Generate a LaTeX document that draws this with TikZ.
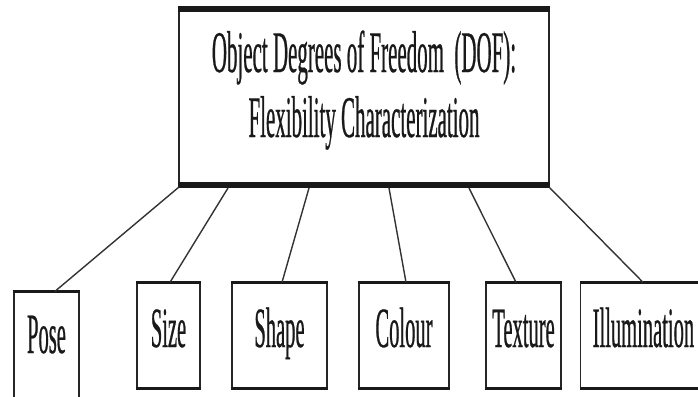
\documentclass[tikz,border=0pt]{standalone}
\usepackage{fontspec}
\newfontfamily\condserif[FakeStretch=0.36,FakeBold=0.4]{Liberation Serif}
\newfontfamily\condserifB[FakeStretch=0.355,FakeBold=0.4]{Liberation Serif}
\usetikzlibrary{calc}
\begin{document}
\begin{tikzpicture}[x=1pt,y=-1pt,
  boxframe/.style={draw=black!85, line width=1.4pt, inner sep=0pt, rectangle},
  thickedge/.style={draw=black!90, line width=3.2pt},
  topedge/.style={draw=black!90, line width=5.5pt},
  conn/.style={draw=black!80, line width=1.4pt},
  titletext/.style={font=\condserifB\fontsize{59}{65}\selectfont, inner sep=0pt, anchor=base, text=black!90},
  leaf/.style={boxframe, font=\condserif\fontsize{57}{62}\selectfont, text=black!90,
     text height=39pt, text depth=16pt, minimum height=105pt}
]
\useasboundingbox (0,0) rectangle (698,396);
\clip (0,0) rectangle (698,396);
\fill[white] (0,0) rectangle (698,396);

% top box
\node[boxframe, line width=2pt, minimum width=370pt, minimum height=174pt] (topbox) at (364,97) {};
\node[titletext] (title1) at (364,72) {Object Degrees of Freedom\ \ (DOF):};
\node[titletext] (title2) at (364,137) {Flexibility Characterization};

% leaf boxes
\node[leaf, minimum width=65pt, minimum height=130pt, text depth=47pt] (pose) at (46.5,357) {Pose};
\node[leaf, minimum width=63pt] (size) at (168.5,335.5) {Size};
\node[leaf, minimum width=95pt] (shape) at (279.5,335.5) {Shape};
\node[leaf, minimum width=90pt] (colour) at (404,335.5) {Colour};
\node[leaf, minimum width=75pt] (texture) at (523.5,335.5) {Texture};
\node[leaf, anchor=west, inner xsep=12pt] (illum) at (580,335.5) {Illumination};

% thick top/bottom edges
\draw[topedge] (topbox.north west) -- (topbox.north east);
\draw[topedge] (topbox.south west) -- (topbox.south east);
\foreach \n in {pose,size,shape,colour,texture,illum}{
  \draw[thickedge] (\n.north west) -- (\n.north east);
  \draw[thickedge] (\n.south west) -- (\n.south east);
}

% connector start points on the top box
\coordinate (s1) at ($(topbox.south west)+(1,2)$);
\coordinate (s2) at ($(topbox.south west)+(50,3)$);
\coordinate (s3) at ($(topbox.south west)+(131,3)$);
\coordinate (s4) at ($(topbox.south west)+(211,3)$);
\coordinate (s5) at ($(topbox.south west)+(291,3)$);
\coordinate (s6) at ($(topbox.south east)+(-1,2)$);

\draw[conn] (s1) -- ([xshift=8.5pt]pose.north);
\draw[conn] (s2) -- ([xshift=1.5pt]size.north);
\draw[conn] (s3) -- ([xshift=2.5pt]shape.north);
\draw[conn] (s4) -- ([xshift=2pt]colour.north);
\draw[conn] (s5) -- ([xshift=-7.5pt]texture.north);
\draw[conn] (s6) -- ([xshift=643pt-580pt]illum.north west);
\end{tikzpicture}
\end{document}
